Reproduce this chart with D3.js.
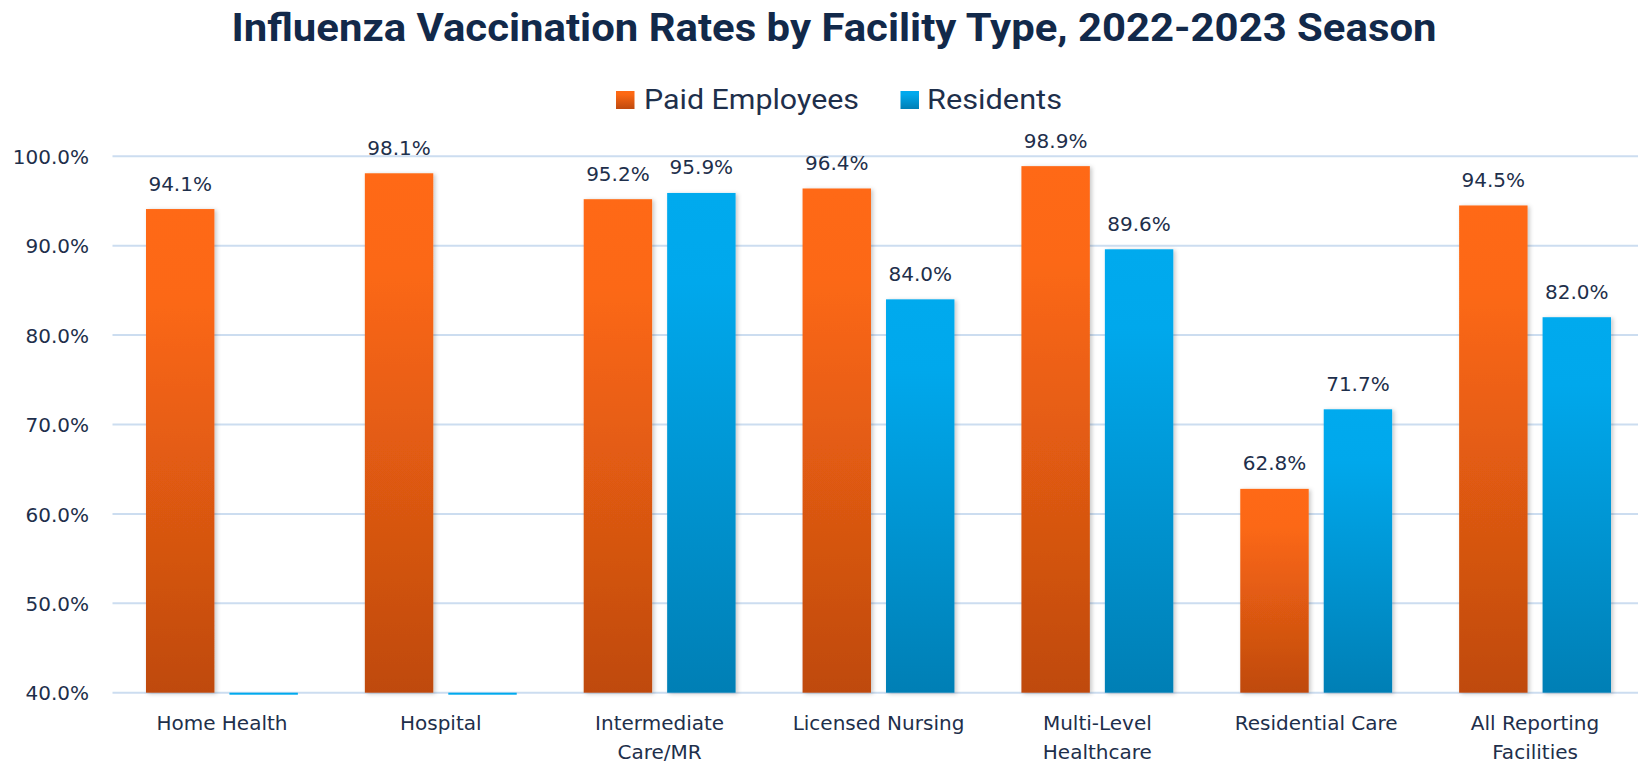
<!DOCTYPE html>
<html><head><meta charset="utf-8">
<script src="https://cdn.jsdelivr.net/npm/d3@7"></script>
<style>body{margin:0;background:#fff;overflow:hidden}</style>
</head><body>
<svg id="chart" width="1638" height="764"></svg>
<script>
// ---- data ----
const categories = ["Home Health", "Hospital", "Intermediate Care/MR", "Licensed Nursing", "Multi-Level Healthcare", "Residential Care", "All Reporting Facilities"];
const categoryLines = [["Home Health"], ["Hospital"], ["Intermediate", "Care/MR"], ["Licensed Nursing"], ["Multi-Level", "Healthcare"], ["Residential Care"], ["All Reporting", "Facilities"]];
const seriesNames = ["Paid Employees", "Residents"];
const paidEmployees = [94.1, 98.1, 95.2, 96.4, 98.9, 62.8, 94.5];
const residents = [null, null, 95.9, 84.0, 89.6, 71.7, 82.0];
const yTicks = [40, 50, 60, 70, 80, 90, 100];
const yTickLabels = ["40.0%", "50.0%", "60.0%", "70.0%", "80.0%", "90.0%", "100.0%"];
const titleText = "Influenza Vaccination Rates by Facility Type, 2022-2023 Season";

// ---- setup ----
const svg = d3.select("#chart");
const textColor = "#1E2F4B";
const numFont = "'DejaVu Sans', sans-serif";

const defs = svg.append("defs");
function grad(id, stops) {
  const g = defs.append("linearGradient").attr("id", id).attr("x1", 0).attr("y1", 0).attr("x2", 0).attr("y2", 1);
  stops.forEach(s => g.append("stop").attr("offset", s[0]).attr("stop-color", s[1]));
}
grad("gOrange", [[0, "#FF6914"], [0.18, "#FC6814"], [1, "#BF4A0F"]]);
grad("gBlue", [[0, "#00AAEE"], [0.18, "#00A8EC"], [1, "#007FB5"]]);
const f = defs.append("filter").attr("id", "shadow").attr("x", "-20%").attr("y", "-5%").attr("width", "150%").attr("height", "115%");
f.append("feDropShadow").attr("dx", 2).attr("dy", 1).attr("stdDeviation", 2).attr("flood-color", "#000").attr("flood-opacity", 0.22);

const fills = ["url(#gOrange)", "url(#gBlue)"];
const series = [paidEmployees, residents];

const y = d3.scaleLinear().domain([40, 100]).range([692.7, 156.3]);
const x0 = d3.scaleBand().domain(categories).range([112.5, 1644.5]).paddingInner(0.306).paddingOuter(0.153);
const x1 = d3.scaleBand().domain(seriesNames).range([0, x0.bandwidth()]).paddingInner(0.18);

// gridlines
svg.append("g").selectAll("line").data(yTicks).join("line")
  .attr("x1", 112.5).attr("x2", 1644.5)
  .attr("y1", d => y(d)).attr("y2", d => y(d))
  .attr("stroke", "#CCDDF0").attr("stroke-width", 2);

// y axis labels via d3 axis
const yAxis = d3.axisLeft(y).tickValues(yTicks).tickSize(0).tickPadding(0)
  .tickFormat((d, i) => yTickLabels[i]);
const ya = svg.append("g").attr("transform", "translate(89,0)").call(yAxis);
ya.select(".domain").remove();
ya.selectAll("text").attr("font-family", numFont).attr("font-size", 20).attr("fill", textColor).attr("dy", "0.36em");

// bars
const groups = svg.append("g").selectAll("g").data(categories).join("g")
  .attr("transform", d => `translate(${x0(d)},0)`);

seriesNames.forEach((s, si) => {
  groups.each(function(cat, ci) {
    const v = series[si][ci];
    const g = d3.select(this);
    if (v == null) {
      g.append("rect").attr("x", x1(s)).attr("y", y(40)).attr("width", x1.bandwidth()).attr("height", 2)
        .attr("fill", si === 0 ? "#FF6914" : "#00AAEE");
      return;
    }
    g.append("rect").attr("x", x1(s)).attr("y", y(v)).attr("width", x1.bandwidth())
      .attr("height", y(40) - y(v)).attr("fill", fills[si]).attr("filter", "url(#shadow)");
    g.append("text").attr("x", x1(s) + x1.bandwidth() / 2).attr("y", y(v) - 18.5)
      .attr("text-anchor", "middle").attr("font-family", numFont).attr("font-size", 20)
      .attr("fill", textColor).text(v.toFixed(1) + "%");
  });
});

// x labels
groups.each(function(cat, ci) {
  const t = d3.select(this).append("text").attr("text-anchor", "middle")
    .attr("font-family", numFont).attr("font-size", 20).attr("fill", textColor);
  categoryLines[ci].forEach((ln, li) => {
    t.append("tspan").attr("x", x0.bandwidth() / 2).attr("y", 730 + li * 29).text(ln);
  });
});

// title
svg.append("text").attr("x", 231.5).attr("y", 41)
  .attr("font-family", "Roboto, sans-serif").attr("font-weight", 700).attr("font-size", 39)
  .attr("fill", "#12294A").attr("textLength", 1205).attr("lengthAdjust", "spacingAndGlyphs")
  .text(titleText);

// legend
const legendItems = [
  {name: seriesNames[0], fill: fills[0], sx: 616, tx: 644, tw: 215},
  {name: seriesNames[1], fill: fills[1], sx: 900.5, tx: 927, tw: 135}
];
const lg = svg.append("g");
legendItems.forEach(it => {
  lg.append("rect").attr("x", it.sx).attr("y", 91).attr("width", 18.5).attr("height", 18).attr("fill", it.fill);
  lg.append("text").attr("x", it.tx).attr("y", 108.7)
    .attr("font-family", "Roboto, sans-serif").attr("font-size", 28.5).attr("fill", textColor)
    .attr("textLength", it.tw).attr("lengthAdjust", "spacingAndGlyphs").text(it.name);
});
</script>
</body></html>
